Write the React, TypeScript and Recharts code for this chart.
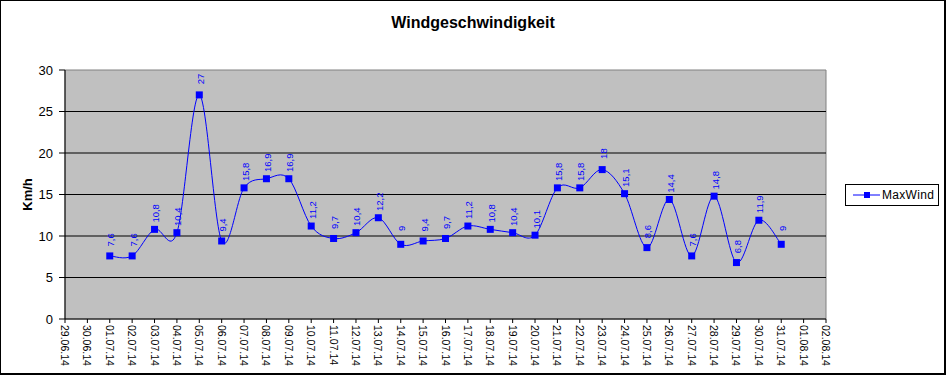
import React from 'react';
import { LineChart, Line, XAxis, YAxis, ReferenceArea, ReferenceLine, LabelList, Legend } from 'recharts';

const dates: string[] = [
  '29.06.14', '30.06.14', '01.07.14', '02.07.14', '03.07.14', '04.07.14', '05.07.14', '06.07.14',
  '07.07.14', '08.07.14', '09.07.14', '10.07.14', '11.07.14', '12.07.14', '13.07.14', '14.07.14',
  '15.07.14', '16.07.14', '17.07.14', '18.07.14', '19.07.14', '20.07.14', '21.07.14', '22.07.14',
  '23.07.14', '24.07.14', '25.07.14', '26.07.14', '27.07.14', '28.07.14', '29.07.14', '30.07.14',
  '31.07.14', '01.08.14', '02.08.14',
];

const maxWind: (number | null)[] = [
  null, null, 7.6, 7.6, 10.8, 10.4, 27, 9.4, 15.8, 16.9, 16.9, 11.2, 9.7, 10.4, 12.2, 9, 9.4, 9.7,
  11.2, 10.8, 10.4, 10.1, 15.8, 15.8, 18, 15.1, 8.6, 14.4, 7.6, 14.8, 6.8, 11.9, 9, null, null,
];

const yTicks: number[] = [0, 5, 10, 15, 20, 25, 30];
const gridValues: number[] = [5, 10, 15, 20, 25];

const seriesName = 'MaxWind';
const title = 'Windgeschwindigkeit';
const yLabel = 'Km/h';

const data = dates.map((d, i) => ({ date: d, MaxWind: maxWind[i] }));

const FONT = '"Liberation Sans", Arial, sans-serif';
const BLUE = '#0000FF';

function excelCurve(context: any) {
  let pts: [number, number][] = [];
  return {
    areaStart() {},
    areaEnd() {},
    lineStart() {
      pts = [];
    },
    lineEnd() {
      const n = pts.length;
      if (n === 0) return;
      context.moveTo(pts[0][0], pts[0][1]);
      for (let i = 0; i < n - 1; i++) {
        const p0 = pts[i === 0 ? 0 : i - 1];
        const p1 = pts[i];
        const p2 = pts[i + 1];
        const p3 = pts[i + 2 < n ? i + 2 : n - 1];
        context.bezierCurveTo(
          p1[0] + (p2[0] - p0[0]) / 6,
          p1[1] + (p2[1] - p0[1]) / 6,
          p2[0] - (p3[0] - p1[0]) / 6,
          p2[1] - (p3[1] - p1[1]) / 6,
          p2[0],
          p2[1]
        );
      }
    },
    point(x: number, y: number) {
      pts.push([+x, +y]);
    },
  };
}

const XTick = (props: any) => {
  const { x, y, payload } = props;
  const ty = y + 2;
  return (
    <text
      x={x}
      y={ty}
      transform={`rotate(90, ${x}, ${ty})`}
      textAnchor="start"
      dominantBaseline="central"
      fontSize={10.5}
      fontFamily={FONT}
      fill="#000"
    >
      {payload.value}
    </text>
  );
};

const SquareDot = (props: any) => {
  const { cx, cy, value } = props;
  if (value == null || cx == null || cy == null) return null;
  return <rect x={cx - 3.5} y={cy - 3.5} width={7} height={7} fill={BLUE} />;
};

const ValueLabel = (props: any) => {
  const { x, y, value } = props;
  if (value == null || x == null || y == null) return null;
  const lx = x + 1;
  const ly = y - 16;
  return (
    <text
      x={lx}
      y={ly}
      transform={`rotate(-90, ${lx}, ${ly})`}
      textAnchor="middle"
      dominantBaseline="central"
      fontSize={9.5}
      fontFamily={FONT}
      fill={BLUE}
    >
      {String(value).replace('.', ',')}
    </text>
  );
};

const LegendBox = () => (
  <svg width={94} height={22} style={{ display: 'block' }}>
    <rect x={0.5} y={0.5} width={93} height={21} fill="#fff" stroke="#000" />
    <line x1={8} y1={11} x2={35} y2={11} stroke={BLUE} strokeWidth={1} />
    <rect x={19} y={8} width={6} height={6} fill={BLUE} />
    <text x={37} y={11} dominantBaseline="central" fontSize={12} fontFamily={FONT} fill="#000" letterSpacing={0.3}>
      {seriesName}
    </text>
  </svg>
);

export default function App() {
  return (
    <div
      style={{
        position: 'absolute',
        left: 0,
        top: 0,
        width: 946,
        height: 375,
        background: '#fff',
        fontFamily: FONT,
      }}
    >
      <div
        style={{
          position: 'absolute',
          left: 0,
          top: 0,
          width: 946,
          height: 375,
          boxSizing: 'border-box',
          borderTop: '1px solid #000',
          borderLeft: '1px solid #000',
          borderRight: '2px solid #000',
          borderBottom: '2px solid #000',
          pointerEvents: 'none',
          zIndex: 2,
        }}
      />
      <div
        style={{
          position: 'absolute',
          left: 0,
          top: 13,
          width: 946,
          textAlign: 'center',
          fontSize: 16,
          fontWeight: 'bold',
          fontFamily: FONT,
          color: '#000',
          lineHeight: '20px',
        }}
      >
        {title}
      </div>
      <LineChart width={946} height={375} data={data} margin={{ top: 70, right: 120, bottom: 6, left: 0 }}>
        <ReferenceArea y1={0} y2={30} fill="#C0C0C0" fillOpacity={1} stroke="#808080" strokeWidth={1} ifOverflow="visible" />
        {gridValues.map((v) => (
          <ReferenceLine key={v} y={v} stroke="#000" strokeWidth={1} />
        ))}
        <XAxis
          dataKey="date"
          interval={0}
          height={50}
          tickSize={4}
          tickMargin={0}
          axisLine={{ stroke: '#000' }}
          tickLine={{ stroke: '#000' }}
          tick={<XTick />}
        />
        <YAxis
          domain={[0, 30]}
          ticks={yTicks}
          width={65}
          tickSize={6}
          tickMargin={6}
          axisLine={{ stroke: '#000' }}
          tickLine={{ stroke: '#000' }}
          tick={{ fontSize: 13, fontFamily: FONT, fill: '#000' }}
          label={{
            value: yLabel,
            angle: -90,
            position: 'center',
            dx: -5,
            style: { fontSize: 13, fontWeight: 'bold', fontFamily: FONT, fill: '#000' },
          }}
        />
        <Legend
          layout="vertical"
          align="center"
          verticalAlign="middle"
          wrapperStyle={{ left: 845, top: 184, width: 94, height: 22 }}
          content={<LegendBox />}
        />
        <Line
          dataKey="MaxWind"
          name={seriesName}
          type={excelCurve as any}
          stroke={BLUE}
          strokeWidth={1}
          dot={<SquareDot />}
          activeDot={false}
          isAnimationActive={false}
        >
          <LabelList dataKey="MaxWind" content={<ValueLabel />} />
        </Line>
      </LineChart>
    </div>
  );
}
